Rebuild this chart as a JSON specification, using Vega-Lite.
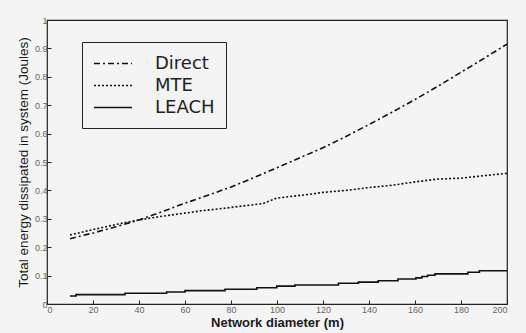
{
  "$schema": "https://vega.github.io/schema/vega-lite/v6.json",
  "autosize": "none",
  "width": 460,
  "height": 284,
  "padding": {"left": 47, "top": 20, "right": 19, "bottom": 29},
  "background": "#f4f4f4",
  "config": {
    "view": {"stroke": "#222", "strokeWidth": 1.2},
    "font": "Liberation Sans",
    "axis": {"grid": false, "domain": false, "tickColor": "#222", "labelColor": "#666", "labelFontSize": 9, "titleColor": "#1a1a1a"}
  },
  "data": {"values": [
    {"d": 10, "e": 0.23, "s": "Direct"},
    {"d": 20, "e": 0.25, "s": "Direct"},
    {"d": 30, "e": 0.272, "s": "Direct"},
    {"d": 40, "e": 0.296, "s": "Direct"},
    {"d": 50, "e": 0.325, "s": "Direct"},
    {"d": 60, "e": 0.355, "s": "Direct"},
    {"d": 70, "e": 0.383, "s": "Direct"},
    {"d": 80, "e": 0.412, "s": "Direct"},
    {"d": 90, "e": 0.445, "s": "Direct"},
    {"d": 100, "e": 0.48, "s": "Direct"},
    {"d": 110, "e": 0.515, "s": "Direct"},
    {"d": 120, "e": 0.55, "s": "Direct"},
    {"d": 130, "e": 0.59, "s": "Direct"},
    {"d": 140, "e": 0.632, "s": "Direct"},
    {"d": 150, "e": 0.675, "s": "Direct"},
    {"d": 160, "e": 0.72, "s": "Direct"},
    {"d": 170, "e": 0.767, "s": "Direct"},
    {"d": 180, "e": 0.816, "s": "Direct"},
    {"d": 190, "e": 0.865, "s": "Direct"},
    {"d": 200, "e": 0.915, "s": "Direct"},
    {"d": 10, "e": 0.243, "s": "MTE"},
    {"d": 20, "e": 0.262, "s": "MTE"},
    {"d": 30, "e": 0.28, "s": "MTE"},
    {"d": 40, "e": 0.296, "s": "MTE"},
    {"d": 50, "e": 0.309, "s": "MTE"},
    {"d": 60, "e": 0.32, "s": "MTE"},
    {"d": 68, "e": 0.329, "s": "MTE"},
    {"d": 77, "e": 0.337, "s": "MTE"},
    {"d": 85, "e": 0.345, "s": "MTE"},
    {"d": 94, "e": 0.354, "s": "MTE"},
    {"d": 100, "e": 0.373, "s": "MTE"},
    {"d": 114, "e": 0.386, "s": "MTE"},
    {"d": 120, "e": 0.393, "s": "MTE"},
    {"d": 130, "e": 0.4, "s": "MTE"},
    {"d": 140, "e": 0.41, "s": "MTE"},
    {"d": 150, "e": 0.418, "s": "MTE"},
    {"d": 160, "e": 0.43, "s": "MTE"},
    {"d": 170, "e": 0.44, "s": "MTE"},
    {"d": 180, "e": 0.443, "s": "MTE"},
    {"d": 190, "e": 0.452, "s": "MTE"},
    {"d": 200, "e": 0.46, "s": "MTE"},
    {"d": 10, "e": 0.028, "s": "LEACH"},
    {"d": 12.6, "e": 0.033, "s": "LEACH"},
    {"d": 33.9, "e": 0.038, "s": "LEACH"},
    {"d": 52, "e": 0.042, "s": "LEACH"},
    {"d": 60, "e": 0.047, "s": "LEACH"},
    {"d": 77.4, "e": 0.052, "s": "LEACH"},
    {"d": 91.2, "e": 0.057, "s": "LEACH"},
    {"d": 99.9, "e": 0.063, "s": "LEACH"},
    {"d": 107.8, "e": 0.067, "s": "LEACH"},
    {"d": 126.7, "e": 0.073, "s": "LEACH"},
    {"d": 135.4, "e": 0.077, "s": "LEACH"},
    {"d": 144, "e": 0.082, "s": "LEACH"},
    {"d": 152.6, "e": 0.088, "s": "LEACH"},
    {"d": 160.4, "e": 0.092, "s": "LEACH"},
    {"d": 163, "e": 0.097, "s": "LEACH"},
    {"d": 165.5, "e": 0.101, "s": "LEACH"},
    {"d": 168.7, "e": 0.106, "s": "LEACH"},
    {"d": 183, "e": 0.112, "s": "LEACH"},
    {"d": 188, "e": 0.117, "s": "LEACH"},
    {"d": 200, "e": 0.117, "s": "LEACH"}
  ]},
  "encoding": {
    "x": {"field": "d", "type": "quantitative", "scale": {"domain": [0, 200], "nice": false},
      "axis": {"values": [0,20,40,60,80,100,120,140,160,180,200], "tickSize": -4, "labelPadding": 5, "title": "Network diameter (m)", "titleFontSize": 13, "titleFontWeight": "bold", "titlePadding": 2}},
    "y": {"field": "e", "type": "quantitative", "scale": {"domain": [0, 1], "nice": false},
      "axis": {"values": [0,0.1,0.2,0.3,0.4,0.5,0.6,0.7,0.8,0.9,1], "format": "~g", "tickSize": -4, "labelPadding": 4, "title": "Total energy dissipated in system (Joules)", "titleFontSize": 13.5, "titleFontWeight": "normal", "titlePadding": 4}},
    "strokeDash": {"field": "s", "type": "nominal",
      "scale": {"domain": ["Direct", "MTE", "LEACH"], "range": [[6,3,2,3],[2,2],[1,0]]},
      "legend": {"title": null, "orient": "none", "legendX": 35, "legendY": 22, "strokeColor": "#222", "fillColor": "#f4f4f4", "padding": 11, "symbolType": "M-1,0H3", "symbolSize": 361, "symbolFillColor": "transparent", "symbolStrokeWidth": 1.5, "symbolStrokeColor": "#111", "labelFont": "DejaVu Sans", "labelFontSize": 18, "labelColor": "#222", "labelOffset": 41, "rowPadding": 2, "labelExpr": "datum.label + '\u00a0\u00a0\u00a0\u00a0\u00a0\u00a0\u00a0\u00a0\u00a0'"}}
  },
  "layer": [
    {"transform": [{"filter": "datum.s !== 'LEACH'"}],
     "mark": {"type": "line", "color": "#111", "strokeWidth": 1.6}},
    {"transform": [{"filter": "datum.s === 'LEACH'"}],
     "mark": {"type": "line", "color": "#111", "strokeWidth": 1.6, "interpolate": "step-after"}}
  ]
}
